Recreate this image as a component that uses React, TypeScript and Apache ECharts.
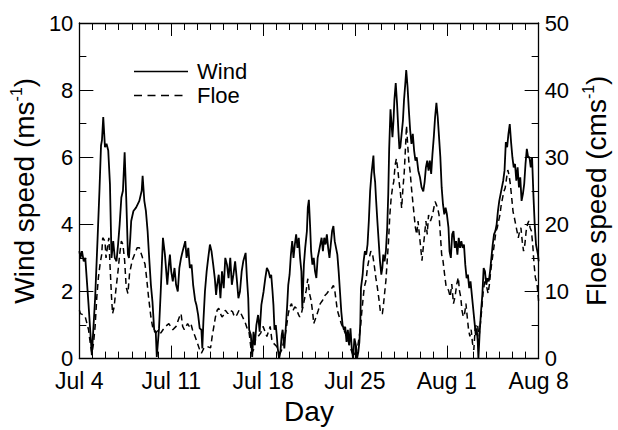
import React, { useEffect, useRef } from "react";
import * as echarts from "echarts";

const FONT = "'Liberation Sans', Arial, Helvetica, sans-serif";

const xTickLabels = ["Jul 4", "Jul 11", "Jul 18", "Jul 25", "Aug 1", "Aug 8"];
const seriesNames = ["Wind", "Floe"];

// [day since Jul 4, wind speed m/s]
const windSeries: [number, number][] = [
  [0, 3.2], [0.08, 3.0], [0.2, 3.2], [0.33, 2.9], [0.45, 3.0], [0.7, 1.6], [0.95, 0.1], [1.2, 1.8], [1.38, 3.5], [1.53, 5.0],
  [1.65, 6.35], [1.72, 6.5], [1.82, 7.2], [1.95, 6.3], [2.07, 6.4], [2.2, 6.2], [2.33, 5.2], [2.45, 3.0], [2.58, 3.5], [2.7, 3.0],
  [2.83, 2.9], [2.95, 3.4], [3.07, 4.0], [3.2, 4.8], [3.32, 5.0], [3.45, 6.15], [3.57, 4.8], [3.7, 3.1], [3.78, 3.0], [3.88, 3.6],
  [3.95, 4.1], [4.12, 4.4], [4.32, 4.5], [4.57, 4.7], [4.75, 5.0], [4.82, 5.45], [4.95, 4.7], [5.07, 4.4], [5.2, 3.8], [5.32, 3.0],
  [5.45, 2.2], [5.57, 1.7], [5.7, 0.86], [5.82, 0.8], [5.9, 0.05], [6.07, 0.9], [6.2, 2.0], [6.37, 3.6], [6.52, 3.1], [6.7, 2.2],
  [6.82, 2.8], [6.9, 3.1], [7.0, 2.6], [7.12, 2.3], [7.25, 2.7], [7.37, 2.2], [7.5, 2.0], [7.62, 2.7], [7.75, 3.0], [7.87, 3.2],
  [8.07, 3.5], [8.17, 3.0], [8.3, 3.3], [8.42, 2.7], [8.55, 2.8], [8.67, 2.2], [8.82, 1.74], [8.92, 1.6], [9.05, 1.3], [9.17, 0.9],
  [9.3, 0.86], [9.37, 0.3], [9.45, 1.1], [9.57, 2.0], [9.7, 2.6], [9.82, 3.0], [9.95, 3.4], [10.07, 3.2], [10.2, 2.8], [10.32, 2.4],
  [10.42, 1.9], [10.5, 2.2], [10.62, 2.5], [10.75, 1.8], [10.87, 2.6], [11.0, 2.1], [11.12, 3.0], [11.25, 2.8], [11.37, 2.4], [11.5, 3.0],
  [11.62, 2.2], [11.74, 2.5], [11.87, 2.9], [11.99, 2.4], [12.12, 1.8], [12.24, 2.0], [12.37, 2.6], [12.49, 2.9], [12.67, 3.15], [12.77, 2.4],
  [12.87, 1.8], [12.94, 0.86], [13.07, 0.7], [13.17, 0.05], [13.27, 0.8], [13.37, 0.4], [13.49, 1.0], [13.62, 1.3], [13.74, 0.8], [13.87, 1.6],
  [14.04, 2.0], [14.17, 2.4], [14.29, 2.7], [14.42, 2.6], [14.54, 2.4], [14.62, 2.5], [14.72, 2.0], [14.79, 1.6], [14.87, 0.86], [14.97, 1.0],
  [15.04, 0.7], [15.12, 0.3], [15.22, 0.0], [15.32, 0.2], [15.42, 0.7], [15.49, 0.86], [15.62, 0.3], [15.72, 0.86], [15.84, 1.6], [15.92, 2.2],
  [16.02, 2.5], [16.12, 3.1], [16.22, 3.5], [16.32, 3.0], [16.42, 3.4], [16.52, 3.7], [16.62, 3.3], [16.72, 3.6], [16.82, 3.0], [16.92, 2.6],
  [16.99, 1.5], [17.11, 2.8], [17.21, 3.3], [17.34, 3.8], [17.41, 4.5], [17.49, 4.73], [17.59, 3.9], [17.66, 3.2], [17.76, 2.8], [17.86, 3.0],
  [17.96, 2.6], [18.06, 2.4], [18.16, 3.0], [18.26, 3.2], [18.36, 3.4], [18.46, 3.6], [18.56, 3.2], [18.66, 3.6], [18.76, 3.4], [18.86, 3.7],
  [18.96, 3.3], [19.06, 3.0], [19.16, 3.4], [19.26, 3.8], [19.36, 3.95], [19.46, 3.5], [19.56, 3.3], [19.66, 3.1], [19.76, 2.6], [19.86, 2.0],
  [19.96, 1.4], [20.06, 1.0], [20.16, 0.86], [20.26, 0.95], [20.36, 0.5], [20.46, 0.86], [20.56, 0.4], [20.66, 0.9], [20.76, 0.3], [20.86, 0.0],
  [20.96, 0.6], [21.09, 0.36], [21.16, 0.0], [21.26, 0.2], [21.34, 0.5], [21.41, 1.05], [21.46, 2.1], [21.59, 2.5], [21.66, 2.9], [21.76, 3.2],
  [21.86, 3.1], [21.96, 3.4], [22.06, 4.1], [22.16, 5.0], [22.26, 5.5], [22.36, 5.87], [22.41, 6.05], [22.46, 5.55], [22.54, 5.26], [22.61, 4.75],
  [22.71, 4.1], [22.81, 3.5], [22.91, 2.9], [23.01, 2.5], [23.09, 2.7], [23.16, 3.1], [23.26, 2.9], [23.36, 3.2], [23.46, 3.9], [23.54, 4.9],
  [23.61, 6.25], [23.71, 7.43], [23.79, 7.0], [23.86, 6.6], [23.94, 7.1], [24.01, 7.72], [24.11, 8.21], [24.21, 7.6], [24.31, 6.8], [24.39, 6.25],
  [24.46, 6.3], [24.56, 6.7], [24.66, 7.1], [24.74, 7.7], [24.84, 8.2], [24.91, 8.6], [25.01, 8.1], [25.11, 7.4], [25.21, 6.8], [25.31, 6.4],
  [25.41, 6.7], [25.51, 6.2], [25.61, 5.9], [25.71, 6.0], [25.83, 5.6], [25.96, 5.4], [26.08, 5.1], [26.21, 4.98], [26.31, 5.26], [26.41, 5.7],
  [26.51, 5.9], [26.61, 5.6], [26.71, 5.9], [26.81, 5.5], [26.91, 6.1], [27.01, 6.6], [27.11, 7.2], [27.21, 7.62], [27.31, 7.2], [27.41, 6.6],
  [27.51, 6.0], [27.61, 5.1], [27.71, 4.6], [27.81, 4.3], [27.91, 4.5], [28.01, 4.3], [28.13, 3.9], [28.21, 3.2], [28.31, 3.0], [28.41, 3.7],
  [28.51, 3.8], [28.61, 3.3], [28.71, 3.5], [28.81, 3.1], [28.91, 3.6], [29.01, 3.3], [29.11, 3.5], [29.21, 3.3], [29.31, 3.4], [29.41, 2.8],
  [29.51, 2.4], [29.61, 2.5], [29.71, 2.1], [29.81, 2.3], [29.91, 1.9], [30.01, 1.5], [30.11, 1.1], [30.21, 0.7], [30.28, 0.9], [30.36, 0.5],
  [30.41, 0.0], [30.51, 0.8], [30.61, 1.4], [30.71, 1.9], [30.81, 2.7], [30.91, 2.6], [31.01, 2.2], [31.11, 2.4], [31.2, 2.3], [31.3, 2.6],
  [31.4, 3.0], [31.5, 3.4], [31.6, 3.7], [31.7, 3.8], [31.8, 4.0], [31.9, 4.4], [32.0, 4.7], [32.1, 4.9], [32.2, 5.1], [32.3, 5.3],
  [32.4, 5.6], [32.5, 6.45], [32.6, 6.3], [32.7, 6.7], [32.8, 6.99], [32.9, 6.45], [33.0, 6.0], [33.1, 5.7], [33.2, 5.8], [33.3, 5.3],
  [33.4, 5.7], [33.5, 5.1], [33.6, 5.4], [33.7, 4.7], [33.8, 4.9], [33.9, 5.2], [34.0, 5.8], [34.1, 6.25], [34.2, 6.0], [34.3, 6.0],
  [34.4, 5.7], [34.5, 6.0], [34.6, 4.9], [34.7, 4.0], [34.8, 3.4], [34.95, 3.1], [35, 2.9],
];

// [day since Jul 4, floe speed cm/s]
const floeSeries: [number, number][] = [
  [0, 7.2], [0.08, 6.7], [0.33, 6.5], [0.45, 6.2], [0.7, 4.3], [0.83, 2.3], [0.95, 0.8], [1.08, 2.3], [1.2, 4.8], [1.33, 9.2],
  [1.45, 12.1], [1.58, 14.1], [1.7, 15.5], [1.78, 18.0], [1.95, 17.5], [2.03, 15.0], [2.13, 16.5], [2.25, 18.0], [2.33, 14.1], [2.45, 9.2],
  [2.53, 6.7], [2.65, 7.7], [2.78, 10.2], [2.95, 13.1], [3.07, 15.5], [3.2, 17.5], [3.32, 17.0], [3.45, 14.6], [3.57, 10.6], [3.7, 9.7],
  [3.82, 12.6], [4.02, 14.6], [4.2, 15.5], [4.4, 16.5], [4.57, 16.5], [4.82, 15.0], [5.0, 14.1], [5.12, 12.1], [5.27, 9.2], [5.45, 6.2],
  [5.62, 4.3], [5.82, 3.8], [6.02, 4.3], [6.2, 3.8], [6.37, 4.3], [6.57, 4.8], [6.82, 5.2], [7.12, 4.3], [7.37, 4.8], [7.62, 6.2],
  [7.75, 6.7], [7.87, 4.8], [8.0, 4.3], [8.25, 5.2], [8.37, 4.8], [8.5, 5.2], [8.62, 4.3], [8.82, 3.3], [9.0, 2.3], [9.17, 1.3],
  [9.3, 0.8], [9.5, 1.6], [9.75, 1.8], [10.0, 1.6], [10.12, 3.3], [10.25, 4.8], [10.37, 6.2], [10.5, 7.2], [10.62, 7.5], [10.75, 6.7],
  [10.87, 6.2], [11.0, 6.5], [11.12, 7.2], [11.32, 6.7], [11.5, 7.2], [11.67, 7.0], [11.82, 6.2], [12.0, 6.5], [12.17, 7.2], [12.32, 6.7],
  [12.49, 6.0], [12.67, 5.2], [12.82, 4.3], [12.94, 3.8], [13.12, 0.8], [13.27, 1.3], [13.42, 2.8], [13.62, 3.3], [13.82, 3.8], [14.0, 4.8],
  [14.29, 3.3], [14.54, 4.8], [14.67, 2.8], [14.79, 2.3], [15.04, 1.8], [15.29, 0.8], [15.42, 1.3], [15.54, 2.3], [15.67, 3.3], [15.79, 4.8],
  [15.92, 6.7], [16.04, 7.7], [16.17, 8.2], [16.29, 7.2], [16.42, 7.7], [16.54, 7.5], [16.67, 6.7], [16.79, 6.2], [16.92, 6.7], [17.11, 8.4],
  [17.29, 10.2], [17.41, 11.9], [17.54, 9.7], [17.66, 8.7], [17.79, 6.7], [17.86, 5.2], [18.04, 6.2], [18.21, 7.2], [18.36, 8.2], [18.54, 8.7],
  [18.71, 9.4], [18.86, 9.7], [19.04, 10.2], [19.21, 10.4], [19.36, 10.9], [19.46, 10.2], [19.56, 8.7], [19.66, 7.2], [19.81, 6.2], [19.96, 5.2],
  [20.16, 4.3], [20.36, 3.3], [20.54, 2.3], [20.71, 1.3], [20.91, 0.3], [21.21, 1.8], [21.41, 4.3], [21.51, 6.7], [21.61, 8.7], [21.71, 10.6],
  [21.84, 11.6], [21.96, 13.6], [22.09, 15.0], [22.21, 16.0], [22.34, 15.6], [22.46, 14.1], [22.59, 12.1], [22.71, 10.6], [22.84, 8.7], [22.96, 6.7],
  [23.09, 6.7], [23.16, 7.7], [23.26, 9.7], [23.36, 11.6], [23.46, 14.6], [23.56, 17.5], [23.66, 21.4], [23.76, 23.9], [23.86, 25.4], [23.96, 26.4],
  [24.06, 28.8], [24.16, 29.8], [24.26, 28.3], [24.36, 26.4], [24.46, 24.9], [24.56, 22.4], [24.66, 25.4], [24.76, 27.8], [24.86, 31.7], [24.93, 34.7],
  [25.01, 32.2], [25.11, 29.3], [25.21, 27.8], [25.31, 25.4], [25.41, 23.4], [25.51, 21.4], [25.61, 19.5], [25.71, 18.5], [25.81, 20.5], [25.91, 18.5],
  [26.01, 16.6], [26.11, 14.6], [26.21, 16.6], [26.31, 18.5], [26.41, 20.5], [26.51, 18.5], [26.61, 21.4], [26.76, 20.5], [26.91, 21.4], [27.01, 22.4],
  [27.11, 23.4], [27.21, 22.9], [27.31, 22.4], [27.41, 21.4], [27.51, 18.5], [27.61, 15.5], [27.71, 14.6], [27.83, 12.6], [27.96, 10.6], [28.13, 10.2],
  [28.26, 9.2], [28.38, 11.1], [28.51, 8.2], [28.63, 9.2], [28.76, 11.1], [28.88, 12.1], [28.96, 10.2], [29.06, 9.2], [29.16, 7.2], [29.26, 6.2],
  [29.36, 6.7], [29.46, 8.2], [29.56, 6.2], [29.66, 4.3], [29.76, 3.3], [29.86, 4.3], [29.96, 2.3], [30.06, 1.3], [30.16, 4.3], [30.26, 5.2],
  [30.36, 4.8], [30.46, 3.3], [30.56, 5.2], [30.66, 7.2], [30.76, 9.7], [30.86, 11.1], [30.95, 12.1], [31.05, 10.6], [31.15, 9.7], [31.25, 11.1],
  [31.35, 13.1], [31.45, 14.6], [31.55, 16.0], [31.65, 17.5], [31.75, 19.0], [31.85, 19.5], [31.95, 20.5], [32.05, 21.4], [32.15, 22.9], [32.25, 23.9],
  [32.35, 24.9], [32.45, 25.4], [32.55, 26.8], [32.65, 28.1], [32.75, 27.3], [32.85, 25.9], [32.95, 23.9], [33.05, 21.9], [33.15, 21.0], [33.25, 20.0],
  [33.35, 19.0], [33.45, 18.0], [33.55, 19.0], [33.65, 19.5], [33.75, 17.5], [33.85, 16.0], [33.95, 17.0], [34.05, 19.0], [34.15, 20.0], [34.25, 20.5],
  [34.35, 19.5], [34.45, 19.0], [34.55, 17.0], [34.65, 14.1], [34.75, 12.1], [34.88, 11.1], [35, 8.5],
];

const axisColor = "#000";
const floeDash = [6, 4];

function xAxisBase(position: "bottom" | "top") {
  return {
    type: "value",
    min: 0,
    max: 35,
    interval: 7,
    position,
    axisLine: { onZero: false, lineStyle: { color: axisColor, width: 1.3 } },
    axisTick: { inside: true, length: 13, lineStyle: { color: axisColor, width: 1 } },
    minorTick: { show: true, splitNumber: 7, length: 7, lineStyle: { color: axisColor, width: 1 } },
    splitLine: { show: false },
  };
}

function yAxisBase(max: number, interval: number, position: "left" | "right", title: string, gap: number) {
  return {
    type: "value",
    min: 0,
    max,
    interval,
    position,
    name: title,
    nameLocation: "middle",
    nameRotate: 90,
    nameGap: gap,
    nameTextStyle: {
      rich: {
        a: { fontSize: 28, fontFamily: FONT, color: "#000", lineHeight: 32 },
        s: { fontSize: 16, fontFamily: FONT, color: "#000", lineHeight: 16, verticalAlign: "top" },
      },
    },
    axisLine: { onZero: false, lineStyle: { color: axisColor, width: 1.3 } },
    axisTick: { inside: true, length: 14, lineStyle: { color: axisColor } },
    minorTick: { show: true, splitNumber: 2, length: 7, lineStyle: { color: axisColor } },
    splitLine: { show: false },
    axisLabel: { margin: 6, fontSize: 22, lineHeight: 20, color: "#000", fontFamily: FONT },
  };
}

export default function App() {
  const ref = useRef<HTMLDivElement>(null);
  useEffect(() => {
    if (!ref.current) return;
    const chart = echarts.init(ref.current, null, { renderer: "svg" });
    const legendText = (text: string, y: number) => ({
      type: "text",
      x: 197,
      y,
      style: { text, fontSize: 22, fontFamily: FONT, fill: "#000", verticalAlign: "middle", align: "left" },
    });
    const option: any = {
      animation: false,
      backgroundColor: "#fff",
      textStyle: { fontFamily: FONT, color: "#000" },
      grid: { left: 72, right: 79, top: 23, bottom: 68, containLabel: false },
      graphic: [
        { type: "line", shape: { x1: 134, y1: 71.5, x2: 188, y2: 71.5 }, style: { stroke: "#000", lineWidth: 1.4 } },
        legendText(seriesNames[0], 71.5),
        {
          type: "line",
          shape: { x1: 134, y1: 95.5, x2: 188, y2: 95.5 },
          style: { stroke: "#000", lineWidth: 1.4, lineDash: [8, 5.5] },
        },
        legendText(seriesNames[1], 95.5),
      ],
      xAxis: [
        {
          ...xAxisBase("bottom"),
          name: "Day",
          nameLocation: "middle",
          nameGap: 37,
          nameTextStyle: { fontSize: 28, color: "#000", fontFamily: FONT },
          axisLabel: {
            margin: 12,
            fontSize: 23,
            lineHeight: 20,
            color: "#000",
            fontFamily: FONT,
            formatter: (v: number) => xTickLabels[Math.round(v / 7)] ?? "",
          },
        },
        { ...xAxisBase("top"), axisLabel: { show: false } },
      ],
      yAxis: [
        yAxisBase(10, 2, "left", "{a|Wind speed (ms}{s|-1}{a|)}", 28),
        yAxisBase(50, 10, "right", "{a|Floe speed (cms}{s|-1}{a|)}", 33),
      ],
      series: [
        {
          name: seriesNames[0],
          type: "line",
          xAxisIndex: 0,
          yAxisIndex: 0,
          symbol: "none",
          showSymbol: false,
          data: windSeries,
          lineStyle: { color: "#000", width: 1.8 },
          itemStyle: { color: "#000" },
        },
        {
          name: seriesNames[1],
          type: "line",
          xAxisIndex: 0,
          yAxisIndex: 1,
          symbol: "none",
          showSymbol: false,
          data: floeSeries,
          lineStyle: { color: "#000", width: 1.5, type: floeDash },
          itemStyle: { color: "#000" },
        },
      ],
    };
    chart.setOption(option);
    return () => chart.dispose();
  }, []);
  return (
    <div
      ref={ref}
      style={{ position: "fixed", left: 0, top: 0, width: 618, height: 430, background: "#fff" }}
    />
  );
}
